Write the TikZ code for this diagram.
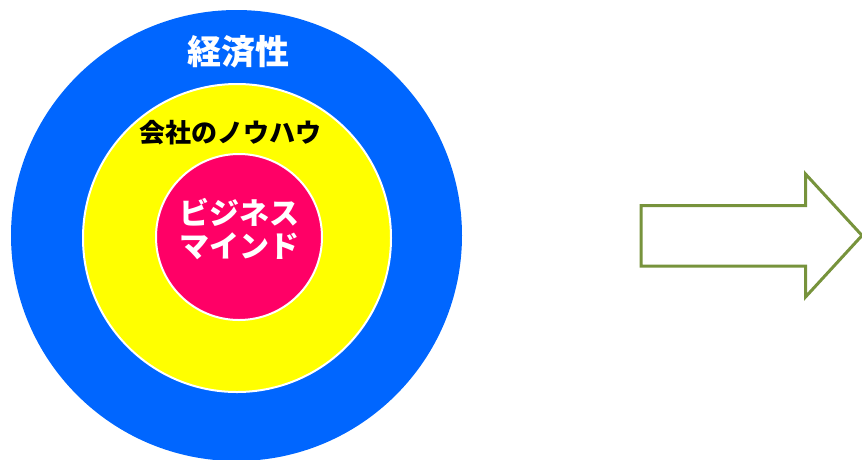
\documentclass[tikz,border=0pt]{standalone}
\usepackage{fontspec}
\newfontfamily\jp{Noto Sans CJK JP}
\definecolor{ringblue}{HTML}{0066FF}
\definecolor{ringyellow}{HTML}{FFFF00}
\definecolor{ringpink}{HTML}{FF0066}
\definecolor{arrowgreen}{HTML}{77933C}
\begin{document}
\begin{tikzpicture}[x=1pt,y=-1pt,
  ring/.style={circle,inner sep=0pt,outer sep=0pt},
  lbl/.style={inner sep=0pt,align=center,font=\jp\bfseries}]
\useasboundingbox (0,0) rectangle (862,459);
\node[ring,fill=ringblue,minimum size=451pt] (outer) at (236.5,235.5) {};
\node[ring,fill=ringyellow,draw=white,line width=2pt,minimum size=308pt] (middle) at (237,238) {};
\node[ring,fill=ringpink,draw=white,line width=2pt,minimum size=166pt] (inner) at (239,237) {};
\node[lbl,text=white,font=\jp\bfseries\fontsize{34}{36}\selectfont] (t1) at (238,52) {経済性};
\node[lbl,text=black,font=\jp\bfseries\fontsize{26}{28}\selectfont] (t2) at (230,133) {会社のノウハウ};
\node[lbl,text=white,font=\jp\bfseries\fontsize{30}{33}\selectfont] (t3) at (239,229) {ビジネス\\マインド};
\draw[arrowgreen,line width=3pt,line join=miter]
  (641,205.5) -- (805.5,205.5) -- (805.5,174) -- (862,235.5) -- (805.5,297) -- (805.5,266) -- (641,266) -- cycle;
\end{tikzpicture}
\end{document}
